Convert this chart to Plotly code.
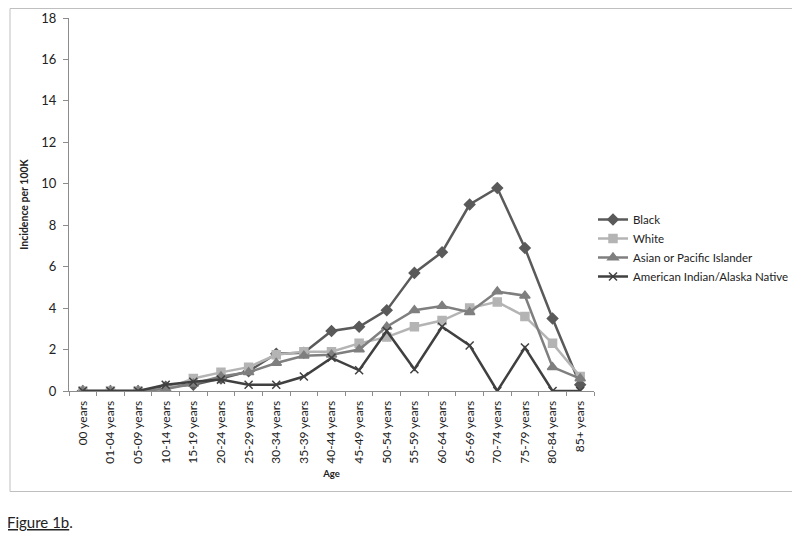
import plotly.graph_objects as go

ages = ["00 years", "01-04 years", "05-09 years", "10-14 years", "15-19 years",
        "20-24 years", "25-29 years", "30-34 years", "35-39 years", "40-44 years",
        "45-49 years", "50-54 years", "55-59 years", "60-64 years", "65-69 years",
        "70-74 years", "75-79 years", "80-84 years", "85+ years"]

black = [0, 0, 0, 0.2, 0.3, 0.6, 0.95, 1.8, 1.85, 2.9, 3.1, 3.9, 5.7, 6.7, 9.0, 9.8, 6.9, 3.5, 0.3]
white = [0, 0, 0, 0.1, 0.6, 0.9, 1.15, 1.75, 1.9, 1.9, 2.3, 2.6, 3.1, 3.4, 4.0, 4.3, 3.6, 2.3, 0.7]
asian = [0, 0, 0, 0.1, 0.35, 0.7, 0.9, 1.35, 1.7, 1.75, 2.0, 3.1, 3.9, 4.1, 3.8, 4.8, 4.6, 1.15, 0.6]
aian = [0, 0, 0, 0.3, 0.45, 0.55, 0.3, 0.3, 0.7, 1.6, 1.0, 2.9, 1.05, 3.1, 2.2, 0, 2.1, 0, 0]

y_ticks = [0, 2, 4, 6, 8, 10, 12, 14, 16, 18]

FONT = "Lato, 'Open Sans', sans-serif"

# page body has an 8px default margin; work in screen pixels and shift
OFF = 8
W, H = 800, 538
# plot area in screen pixels
L, R, T, B = 69, 594, 18, 391


def px(x):
    return (x - L) / (R - L)


def py(y):
    return (B - y) / (B - T)


def cx(x):
    return (x - OFF) / W


def cy(y):
    return 1 - (y - OFF) / H


fig = go.Figure()
series = [
    ("Black", black, "#5a5a5a", "diamond", 8),
    ("White", white, "#b4b4b4", "square", 8),
    ("Asian or Pacific Islander", asian, "#7f7f7f", "triangle-up", 9),
    ("American Indian/Alaska Native", aian, "#404040", "x-thin-open", 8),
]
for name, vals, col, sym, sz in series:
    fig.add_trace(go.Scatter(
        x=ages, y=vals, name=name, mode="lines+markers",
        line=dict(color=col, width=2.5),
        marker=dict(symbol=sym, size=sz, color=col,
                    line=dict(color=col, width=1.5)),
    ))

fig.update_layout(
    width=W, height=H,
    margin=dict(l=L - OFF, r=W + OFF - R, t=T - OFF, b=H + OFF - B, autoexpand=False),
    paper_bgcolor="white", plot_bgcolor="white",
    font=dict(family=FONT, size=12, color="#222222"),
    showlegend=True,
    legend=dict(xref="container", yref="container",
                x=cx(593), y=cy(205), xanchor="left", yanchor="top",
                font=dict(size=11.5, color="#222222"), tracegroupgap=0,
                itemwidth=30, bgcolor="rgba(0,0,0,0)"),
    xaxis=dict(
        type="category", range=[-0.5, 18.5], automargin=False,
        showline=True, linecolor="#8c8c8c", linewidth=1,
        ticks="outside", ticklen=4, tickcolor="#8c8c8c", tickson="boundaries",
        tickangle=-90, tickfont=dict(size=12, color="#222222"), ticklabelstandoff=4,
        showgrid=False, zeroline=False,
        title=dict(text="<b>Age</b>", font=dict(size=9.5, color="#222222"), standoff=7),
    ),
    yaxis=dict(
        range=[0, 18], tickvals=y_ticks, automargin=False,
        showline=True, linecolor="#8c8c8c", linewidth=1,
        ticks="outside", ticklen=5, tickcolor="#8c8c8c", ticklabelstandoff=4,
        tickfont=dict(size=13, color="#222222"),
        showgrid=False, zeroline=False,
        title=dict(text="<b>Incidence per 100K</b>", font=dict(size=10.5, color="#222222"), standoff=10),
    ),
    shapes=[dict(type="rect", xref="paper", yref="paper",
                 x0=px(10), x1=px(794), y0=py(491.5), y1=py(8.5),
                 line=dict(color="#bfbfbf", width=1), fillcolor="rgba(0,0,0,0)")],
    annotations=[dict(text="<u>Figure 1b</u>.", xref="paper", yref="paper",
                      x=px(5), y=py(522), xanchor="left", yanchor="middle",
                      showarrow=False, font=dict(size=15, color="#222222", family=FONT))],
)

fig.write_html("out.html")
